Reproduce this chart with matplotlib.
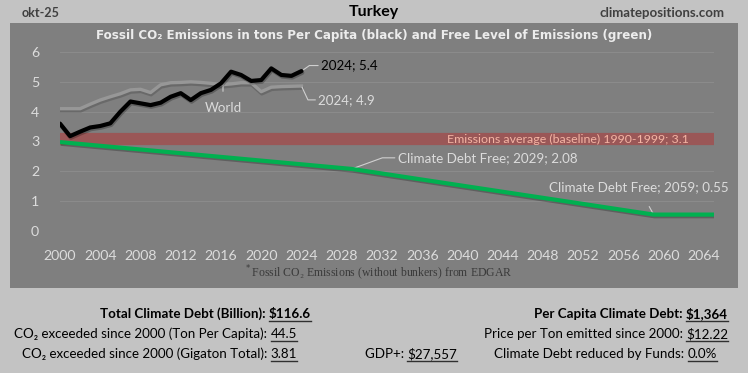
import matplotlib
matplotlib.use("Agg")
import matplotlib.pyplot as plt
import matplotlib.patheffects as pe
from matplotlib.patches import Rectangle
from matplotlib.lines import Line2D

plt.rcParams['font.family'] = ['Lato', 'DejaVu Sans']

# ---------------- data ----------------
years_hist = list(range(2000, 2025))
turkey = [3.60, 3.18, 3.33, 3.47, 3.52, 3.61, 4.00, 4.34, 4.28, 4.22, 4.30,
          4.50, 4.62, 4.39, 4.62, 4.73, 4.95, 5.34, 5.23, 5.03, 5.06, 5.45,
          5.23, 5.20, 5.36]
world = [4.10, 4.10, 4.10, 4.25, 4.39, 4.50, 4.60, 4.73, 4.75, 4.64, 4.90,
         4.97, 4.98, 5.00, 4.98, 4.95, 4.90, 4.93, 4.97, 4.97, 4.67, 4.82,
         4.84, 4.85, 4.86]
free_years = [2000, 2029, 2059, 2065]
free_level = [2.98, 2.08, 0.55, 0.55]
baseline_value = 3.1
baseline_years = [2000, 2065]
xtick_years = list(range(2000, 2065, 4))
ytick_vals = [0, 1, 2, 3, 4, 5, 6]

top_left = "okt-25"
country = "Turkey"
site = "climatepositions.com"
chart_title = "Fossil CO\u2082 Emissions in tons Per Capita (black) and Free Level of Emissions (green)"
footnote = "Fossil CO\u2082 Emissions (without bunkers) from EDGAR"

left_rows = [("Total Climate Debt (Billion): ", "$116.6", True),
             ("CO\u2082 exceeded since 2000 (Ton Per Capita): ", "44.5", False),
             ("CO\u2082 exceeded since 2000 (Gigaton Total): ", "3.81", False)]
right_rows = [("Per Capita Climate Debt: ", "$1,364", True),
              ("Price per Ton emitted since 2000: ", "$12.22", False),
              ("Climate Debt reduced by Funds: ", "0.0%", False)]
gdp_row = ("GDP+: ", "$27,557")

# ---------------- figure ----------------
W, H = 748, 373
fig = plt.figure(figsize=(W / 100, H / 100), dpi=100, facecolor='#c3c3c3')

def fx(px):
    return px / W

def fy(py):
    return 1 - py / H

# grey panel
fig.patches.append(Rectangle((fx(10), fy(288)), fx(738) - fx(10), fy(23) - fy(288),
                             transform=fig.transFigure, facecolor='#7f7f7f',
                             edgecolor='none', zorder=-5))

ax = fig.add_axes([fx(60), fy(231), fx(714) - fx(60), fy(52) - fy(231)])
ax.set_zorder(3)
ax.set_facecolor('none')
ax.set_xlim(2000, 2065)
ax.set_ylim(0, 6)
for s in ax.spines.values():
    s.set_visible(False)
ax.set_yticks(ytick_vals)
ax.set_xticks(xtick_years)
ax.tick_params(length=0, colors='#dcdcdc', labelsize=10.2)
ax.tick_params(axis='x', pad=14)
ax.tick_params(axis='y', pad=15)
for v in ytick_vals:
    ax.axhline(v, color='#8b8b8b', lw=0.8, zorder=1)

shadow = [pe.SimpleLineShadow(offset=(0.6, -1.2), shadow_color='black', alpha=0.25), pe.Normal()]

ax.plot(baseline_years, [baseline_value] * 2, color='#9a5757', lw=8.8,
        solid_capstyle='butt', zorder=2)
ax.plot(free_years, free_level, color='#00b050', lw=3.0, zorder=4,
        solid_capstyle='butt', path_effects=shadow)
ax.plot(years_hist, world, color='#979797', lw=2.4, zorder=3,
        path_effects=[pe.SimpleLineShadow(offset=(0.4, -1.6), shadow_color='#505050', alpha=0.45), pe.Normal()])
ax.plot(years_hist, turkey, color='black', lw=3.0, zorder=5,
        solid_joinstyle='round', solid_capstyle='round', path_effects=shadow)

# annotations
fs = 9.6
ax.annotate(f"{years_hist[-1]}; {turkey[-1]:.1f}", xy=(years_hist[-1], turkey[-1]),
            xytext=(14, 4), textcoords='offset points', color='black', fontsize=fs,
            va='center', ha='left',
            arrowprops=dict(arrowstyle='-', color='#d0d0d0', lw=0.8, shrinkA=0, shrinkB=1,
                            connectionstyle='angle,angleA=0,angleB=35,rad=0'))
ax.annotate(f"{years_hist[-1]}; {world[-1]:.1f}", xy=(years_hist[-1], world[-1]),
            xytext=(12, -10), textcoords='offset points', color='#dcdcdc', fontsize=fs,
            va='center', ha='left',
            arrowprops=dict(arrowstyle='-', color='#d0d0d0', lw=0.8, shrinkA=0, shrinkB=1,
                            connectionstyle='angle,angleA=0,angleB=-65,rad=0'))
ax.annotate("World", xy=(2016.2, world[16]), xytext=(0, -17), textcoords='offset points',
            color='#dcdcdc', fontsize=fs, va='center', ha='center',
            arrowprops=dict(arrowstyle='-', color='#d0d0d0', lw=0.8, shrinkA=6, shrinkB=0))
ax.text(2065 - 2.5, baseline_value - 0.02,
        f"Emissions average (baseline) 1990-1999; {baseline_value}",
        color='#f4b4a4', fontsize=8.9, ha='right', va='center', zorder=6)
ax.annotate(f"Climate Debt Free; {free_years[1]}; {free_level[1]:.2f}",
            xy=(free_years[1], free_level[1]), xytext=(33, 8), textcoords='offset points',
            color='#dcdcdc', fontsize=fs, va='center', ha='left',
            arrowprops=dict(arrowstyle='-', color='#d0d0d0', lw=0.8, shrinkA=0, shrinkB=0,
                            connectionstyle='angle,angleA=0,angleB=20,rad=0'))
ax.annotate(f"Climate Debt Free; {free_years[2]}; {free_level[2]:.2f}",
            xy=(free_years[2], free_level[2]), xytext=(-11, 20), textcoords='offset points',
            color='#dcdcdc', fontsize=fs, va='center', ha='center',
            arrowprops=dict(arrowstyle='-', color='#d0d0d0', lw=0.8, shrinkA=9, shrinkB=0))

# header texts
fig.text(fx(22), fy(13), top_left, color='#404040', fontsize=9, ha='left', va='center', weight='bold')
fig.text(fx(374), fy(12), country, color='black', fontsize=11.5, ha='center', va='center', weight='bold')
fig.text(fx(725), fy(13), site, color='#404040', fontsize=9.5, ha='right', va='center', weight='bold')
fig.text(fx(374), fy(36), chart_title, color='#ececec', fontsize=8.6, ha='center',
         va='center', weight='bold', family=['DejaVu Sans'])
fig.text(fx(378), fy(273), "$^*$" + footnote, color='#3a3a3a', fontsize=8.5, ha='center',
         va='center', family=['Liberation Serif', 'DejaVu Serif'])

# bottom summary
fig.canvas.draw()
renderer = fig.canvas.get_renderer()

def row(label, value, x_end, y, bold):
    w = 'bold' if bold else 'normal'
    tv = fig.text(fx(x_end), fy(y), value, color='black', fontsize=9.6, ha='right',
                  va='baseline', weight=w)
    bb = tv.get_window_extent(renderer)
    fig.text(bb.x0 / W, fy(y), label, color='black', fontsize=9.6, ha='right',
             va='baseline', weight=w)
    yl = fy(y) - 2.5 / H
    fig.lines.append(Line2D([bb.x0 / W, bb.x1 / W], [yl, yl], color='#303030',
                            lw=1.0, transform=fig.transFigure))

row(left_rows[0][0], left_rows[0][1], 311, 318, left_rows[0][2])
row(left_rows[1][0], left_rows[1][1], 297, 338, left_rows[1][2])
row(left_rows[2][0], left_rows[2][1], 297, 358, left_rows[2][2])
row(right_rows[0][0], right_rows[0][1], 728, 318, right_rows[0][2])
row(right_rows[1][0], right_rows[1][1], 728, 338, right_rows[1][2])
row(right_rows[2][0], right_rows[2][1], 717, 358, right_rows[2][2])
row(gdp_row[0], gdp_row[1], 457, 358, False)

fig.savefig("out.png", dpi=100, facecolor=fig.get_facecolor())
